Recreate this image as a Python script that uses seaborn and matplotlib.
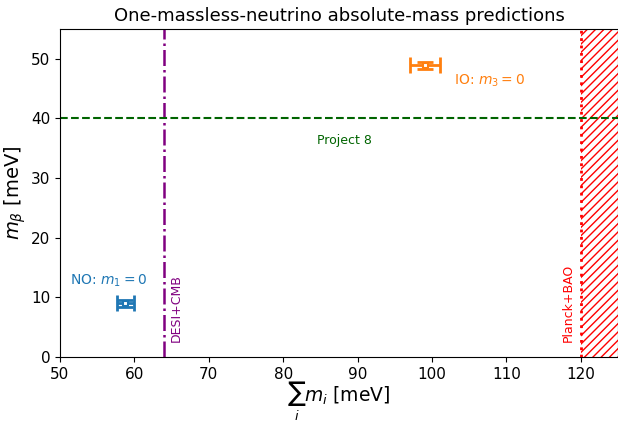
import matplotlib
matplotlib.use("Agg")
import matplotlib.pyplot as plt
import seaborn as sns
import pandas as pd

# Data
orderings = ["NO", "IO"]
labels = ["NO: $m_1=0$", "IO: $m_3=0$"]
sum_m = [58.8, 99.1]
sum_m_err = [1.1, 2.0]
m_beta = [9.0, 48.9]
m_beta_err = [0.6, 0.65]
colors = ["tab:blue", "tab:orange"]

desi_cmb = 64.0
planck_bao = 120.0
project8 = 40.0

sns.set_style("ticks", {"text.color": "black", "xtick.color": "black",
                        "ytick.color": "black", "axes.labelcolor": "black",
                        "axes.edgecolor": "black"})
plt.rcParams["font.family"] = ["DejaVu Sans"]

fig = plt.figure(figsize=(6.18, 4.22), dpi=100)
ax = fig.add_axes([60/618, 1-357/422, 1-60/618, (357-29)/422])

df = pd.DataFrame({"ordering": orderings, "sum_m": sum_m, "m_beta": m_beta})

for i in range(len(orderings)):
    ax.errorbar(sum_m[i], m_beta[i], xerr=sum_m_err[i], yerr=m_beta_err[i],
                fmt="none", ecolor=colors[i], elinewidth=2, capsize=6, capthick=2, zorder=3)
sns.scatterplot(data=df, x="sum_m", y="m_beta", hue="ordering", palette=colors,
                marker="s", s=16, facecolor="white", linewidth=1.5, legend=False,
                ax=ax, zorder=4)
coll = ax.collections[-1]
coll.set_edgecolors(colors)
coll.set_facecolors("white")

ax.axvline(desi_cmb, color="purple", ls="-.", lw=1.8)
ax.axhline(project8, color="darkgreen", ls="--", lw=1.5)
ax.axvline(planck_bao, color="red", ls=":", lw=2)
ax.axvspan(planck_bao, 125, facecolor="none", edgecolor="red", hatch="////", lw=0)

ax.text(51.3, 12.2, labels[0], color="tab:blue", fontsize=10)
ax.text(103, 45.6, labels[1], color="tab:orange", fontsize=10)
ax.text(84.5, 35.8, "Project 8", color="darkgreen", fontsize=9)
ax.text(64.8, 3, "DESI+CMB", color="purple", fontsize=9, rotation=90)
ax.text(117.4, 3, "Planck+BAO", color="red", fontsize=9, rotation=90)

ax.set_xlim(50, 125)
ax.set_ylim(0, 55)
ax.set_xticks(range(50, 121, 10))
ax.set_yticks(range(0, 51, 10))
ax.tick_params(labelsize=11, length=3.5, width=0.8)
ax.set_xlabel(r"$\sum_i m_i$ [meV]", fontsize=13.5, labelpad=-1)
ax.set_ylabel(r"$m_\beta$ [meV]", fontsize=14, labelpad=2)
ax.set_title("One-massless-neutrino absolute-mass predictions", fontsize=13)

fig.savefig("out.png", dpi=100)
